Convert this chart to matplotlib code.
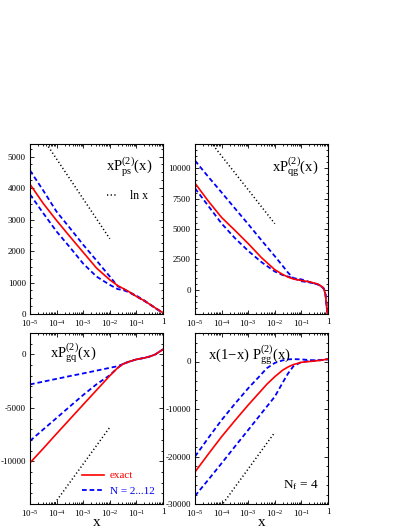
import matplotlib
matplotlib.use('Agg')
import matplotlib.pyplot as plt
from matplotlib.ticker import MultipleLocator, LogLocator, NullFormatter

plt.rcParams['font.family'] = ['Liberation Serif', 'DejaVu Serif']
plt.rcParams['mathtext.fontset'] = 'custom'
plt.rcParams['mathtext.rm'] = 'Liberation Serif'
plt.rcParams['mathtext.it'] = 'Liberation Serif:italic'
plt.rcParams['mathtext.default'] = 'regular'
plt.rcParams['axes.unicode_minus'] = False

# ---------------- data ----------------
xticks = [1e-5, 1e-4, 1e-3, 1e-2, 1e-1, 1.0]
xtick_labels = [r'$10^{-5}$', r'$10^{-4}$', r'$10^{-3}$', r'$10^{-2}$', r'$10^{-1}$', '1']

# x P_ps^(2)
ps_x = [1e-5, 3.16e-5, 1e-4, 3.16e-4, 1e-3, 3.16e-3, 1e-2, 2e-2, 3.16e-2, 5e-2, 0.1, 0.2, 0.316, 0.5, 0.8, 1.0]
ps_exact = [4120, 3510, 2970, 2460, 1960, 1460, 1085, 900, 810, 720, 560, 420, 310, 200, 90, 40]
ps_hi = [4560, 3920, 3250, 2730, 2200, 1700, 1190, 880, 800, 710, 580, 430, 310, 190, 80, 30]
ps_lo = [3800, 3200, 2620, 2120, 1600, 1190, 925, 790, 760, 700, 560, 410, 310, 200, 90, 40]
ps_lnx_x = [1e-5, 1e-2]
ps_lnx_y = [6190, 2390]

# x P_qg^(2)
qg_x = [1e-5, 3.16e-5, 1e-4, 3.16e-4, 1e-3, 3.16e-3, 1e-2, 2e-2, 3.16e-2, 5e-2, 0.1, 0.2, 0.4, 0.6, 0.7, 0.8, 0.9, 0.95, 1.0]
qg_exact = [8770, 7300, 5950, 4890, 3800, 2640, 1650, 1250, 1040, 880, 760, 650, 480, 250, 80, -400, -1500, -1900, -2300]
qg_hi = [10630, 9300, 8010, 6700, 5400, 4070, 2760, 1950, 1400, 950, 850, 640, 440, 220, 50, -350, -1500, -1900, -2300]
qg_lo = [8350, 6900, 5450, 4250, 3200, 2270, 1500, 1200, 1080, 950, 700, 600, 460, 250, 100, -300, -1400, -1900, -2300]
qg_lnx_x = [1e-5, 1e-2]
qg_lnx_y = [13800, 5440]

# x P_gq^(2)
gq_x = [1e-5, 3.16e-5, 1e-4, 3.16e-4, 1e-3, 3.16e-3, 1e-2, 2e-2, 3.16e-2, 5e-2, 0.1, 0.2, 0.316, 0.5, 1.0]
gq_exact = [-10150, -8800, -7420, -6060, -4700, -3350, -2000, -1250, -900, -700, -470, -330, -200, -20, 470]
gq_flat = [-2810, -2550, -2290, -2030, -1780, -1520, -1260, -1100, -900, -700, -470, -330, -200, -20, 470]
gq_mid = [-8100, -7020, -5950, -4870, -3800, -2800, -1950, -1250, -900, -700, -470, -330, -200, -20, 470]
gq_lnx_x = [1e-5, 1e-2]
gq_lnx_y = [-17130, -6820]

# x(1-x) P_gg^(2)
gg_x = [1e-5, 3.16e-5, 1e-4, 3.16e-4, 1e-3, 3.16e-3, 5e-3, 1e-2, 2e-2, 3.16e-2, 5e-2, 0.1, 0.2, 0.316, 0.5, 1.0]
gg_exact = [-23250, -19500, -15830, -12450, -9160, -6050, -4800, -3200, -1800, -1150, -650, -170, 0, 100, 250, 500]
gg_hi = [-20000, -16100, -12320, -8900, -5640, -2650, -1420, -300, 250, 450, 500, 450, 300, 250, 300, 500]
gg_lo = [-28300, -24900, -21430, -17900, -14420, -10900, -9500, -7400, -4400, -2500, -1000, -100, 100, 200, 250, 450]
gg_lnx_x = [1e-5, 1e-2]
gg_lnx_y = [-38010, -14910]

RED = '#ff0000'
BLUE = '#0000ff'

fig = plt.figure(figsize=(4.09, 5.29), dpi=100)
fig.patch.set_facecolor('white')

W = 133 / 409
HT = 170 / 529
HB = 171 / 529
pos = {
    'ps': [30 / 409, 215 / 529, W, HT],
    'qg': [195 / 409, 215 / 529, W, HT],
    'gq': [30 / 409, 25 / 529, W, HB],
    'gg': [195 / 409, 25 / 529, W, HB],
}


def style_axes(ax, ylim, major, minor):
    ax.set_xscale('log')
    ax.set_xlim(1e-5, 1)
    ax.set_ylim(*ylim)
    ax.set_xticks(xticks)
    ax.set_xticklabels(xtick_labels)
    ax.xaxis.set_minor_locator(LogLocator(base=10, subs=range(2, 10), numticks=20))
    ax.xaxis.set_minor_formatter(NullFormatter())
    ax.yaxis.set_major_locator(MultipleLocator(major))
    ax.yaxis.set_minor_locator(MultipleLocator(minor))
    ax.tick_params(which='both', direction='in', top=True, right=True, labelsize=6.5, width=0.6)
    ax.tick_params(which='major', length=3.2, pad=3)
    ax.tick_params(which='minor', length=1.7)
    for s in ax.spines.values():
        s.set_linewidth(0.8)


def draw(ax, x, exact, blues, lx, ly, legend_labels=False, lnx_label=None):
    ax.plot(lx, ly, color='black', lw=1.1, linestyle=(0, (0.8, 1.6)), label=lnx_label)
    for i, b in enumerate(blues):
        ax.plot(x, b, color=BLUE, lw=1.3, dashes=(2.6, 1.6),
                label=('N = 2...12' if (legend_labels and i == 0) else None))
    ax.plot(x, exact, color=RED, lw=1.2, label=('exact' if legend_labels else None))


ax1 = fig.add_axes(pos['ps'])
draw(ax1, ps_x, ps_exact, [ps_hi, ps_lo], ps_lnx_x, ps_lnx_y, lnx_label='ln x')
style_axes(ax1, (0, 5400), 1000, 250)
ax1.text(0.575, 0.865, r'$xP_{ps}^{(2)}(x)$', transform=ax1.transAxes, fontsize=10.5, ha='left', va='center')
ax1.legend(loc='center right', bbox_to_anchor=(0.885, 0.694), frameon=False, fontsize=8.5,
           handlelength=0.8, handletextpad=1.1, borderpad=0, borderaxespad=0)

ax2 = fig.add_axes(pos['qg'])
draw(ax2, qg_x, qg_exact, [qg_hi, qg_lo], qg_lnx_x, qg_lnx_y)
style_axes(ax2, (-2000, 12000), 2500, 500)
ax2.text(0.577, 0.866, r'$xP_{qg}^{(2)}(x)$', transform=ax2.transAxes, fontsize=10.5, ha='left', va='center')

ax3 = fig.add_axes(pos['gq'])
draw(ax3, gq_x, gq_exact, [gq_flat, gq_mid], gq_lnx_x, gq_lnx_y, legend_labels=True)
style_axes(ax3, (-14000, 2000), 5000, 1000)
ax3.text(0.15, 0.881, r'$xP_{gq}^{(2)}(x)$', transform=ax3.transAxes, fontsize=10.5, ha='left', va='center')
h, l = ax3.get_legend_handles_labels()
order = [l.index('exact'), l.index('N = 2...12')]
ax3.legend([h[i] for i in order], [l[i] for i in order], loc='lower right',
           bbox_to_anchor=(0.935, 0.045), frameon=False, fontsize=8,
           handlelength=2.0, handletextpad=0.5, labelspacing=0.55, borderpad=0,
           borderaxespad=0, labelcolor='linecolor')

ax4 = fig.add_axes(pos['gg'])
draw(ax4, gg_x, gg_exact, [gg_hi, gg_lo], gg_lnx_x, gg_lnx_y)
style_axes(ax4, (-30000, 6000), 10000, 2000)
ax4.text(0.098, 0.871, r'$x(1\!-\!x)\ P_{gg}^{(2)}(x)$', transform=ax4.transAxes, fontsize=10.5, ha='left', va='center')
ax4.text(0.66, 0.111, r'$N_f$ = 4', transform=ax4.transAxes, fontsize=9.5, ha='left', va='center')

# x-axis labels of the bottom panels
fig.text(96.5 / 409, 3 / 529, 'x', ha='center', va='baseline', fontsize=11)
fig.text(261.5 / 409, 3 / 529, 'x', ha='center', va='baseline', fontsize=11)

fig.savefig('out.png', dpi=100, facecolor='white')
